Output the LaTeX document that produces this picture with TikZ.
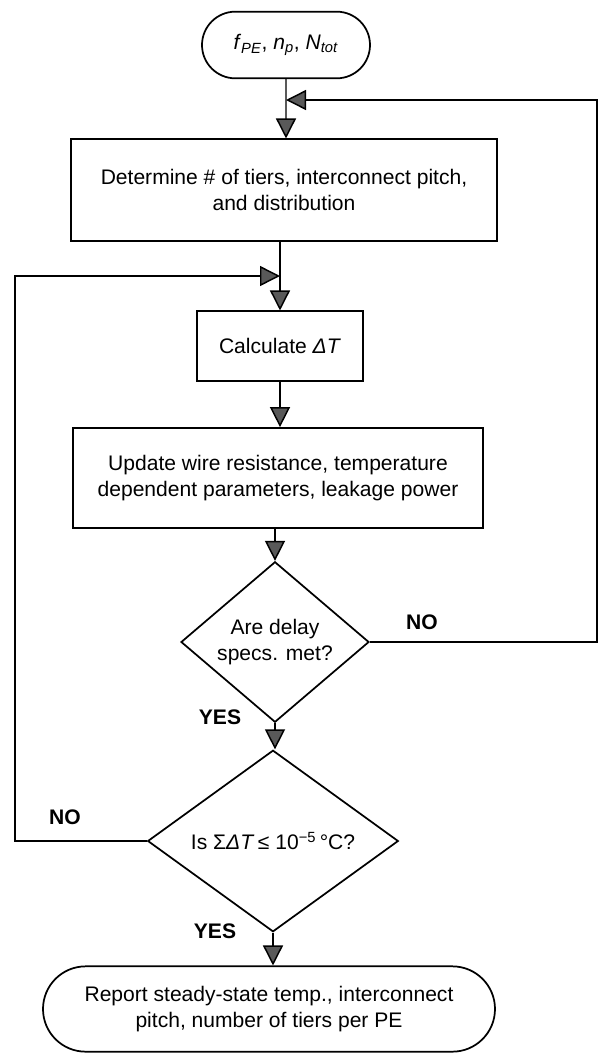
\documentclass[tikz,border=0pt]{standalone}
\usepackage{fontspec}
\setmainfont{Liberation Sans}
\usetikzlibrary{arrows.meta,shapes.geometric,shapes.misc}

\begin{document}
\begin{tikzpicture}[x=0.75pt, y=-0.75pt,
    every node/.style={font=\fontsize{15.8}{19}\selectfont},
    box/.style={draw, line width=1.3pt, align=center, inner sep=0pt},
    term/.style={draw, rounded rectangle, line width=1.3pt, align=center, inner sep=0pt},
    decide/.style={draw, diamond, line width=1.3pt, align=center, inner sep=0pt},
    flow/.style={line width=1.1pt, -{Triangle[length=15pt, width=15pt, fill=black!65]}},
    lbl/.style={font=\fontsize{15.8}{18}\selectfont\bfseries}]
        \useasboundingbox (0,0) rectangle (599,1057);

        % Steps
        \node[term, minimum width=126pt, minimum height=50pt] (start) at (286,45)
            {\textit{f}\textsubscript{\textit{PE}}, \textit{n}\textsubscript{\textit{p}}, \textit{N}\textsubscript{\textit{tot}}};
        \node[box, minimum width=320pt, minimum height=76pt] (tiers) at (284,190)
            {Determine \# of tiers, interconnect pitch,\\and distribution};
        \node[box, minimum width=124.5pt, minimum height=52pt] (calc) at (280,346)
            {Calculate \textit{ΔT}};
        \node[box, minimum width=307.5pt, minimum height=75pt] (update) at (278,478)
            {Update wire resistance, temperature\\dependent parameters, leakage power};
        \node[decide, minimum width=141pt, minimum height=100pt] (delay) at (275,642)
            {Are delay\\specs. met?};
        \node[decide, minimum width=188pt, minimum height=126pt] (conv) at (273,841)
            {Is Σ\textit{ΔT}\,≤ 10\textsuperscript{−5}\,°C?};
        \node[term, minimum width=339pt, minimum height=64pt] (report) at (269,1009)
            {Report steady-state temp., interconnect\\pitch, number of tiers per PE};

        % Junctions of the loops
        \coordinate (jtop) at (286,100);
        \coordinate (rtop) at (597,100);
        \coordinate (jmid) at (280,276);
        \coordinate (ltop) at (15,276);

        % Flow
        \draw[flow] (start) -- (start |- tiers.north);
        \draw[flow] (calc |- tiers.south) -- (calc.north);
        \draw[flow] (calc.south) -- (calc.south |- update.north);
        \draw[flow] (delay |- update.south) -- (delay.north);
        \draw[flow] (delay.south) -- (delay.south |- conv.north);
        \draw[flow] (conv.south) -- (conv.south |- report.north);

        % Loops back
        \draw[flow] (delay.east) -| (rtop) -- (jtop);
        \draw[flow] (conv.west) -| (ltop) -- (jmid);

        % Branch labels
        \node[lbl] (no1) at (422,622) {NO};
        \node[lbl] (yes1) at (220,717) {YES};
        \node[lbl] (no2) at (65,817) {NO};
        \node[lbl] (yes2) at (215,931) {YES};
    \end{tikzpicture}
\end{document}
